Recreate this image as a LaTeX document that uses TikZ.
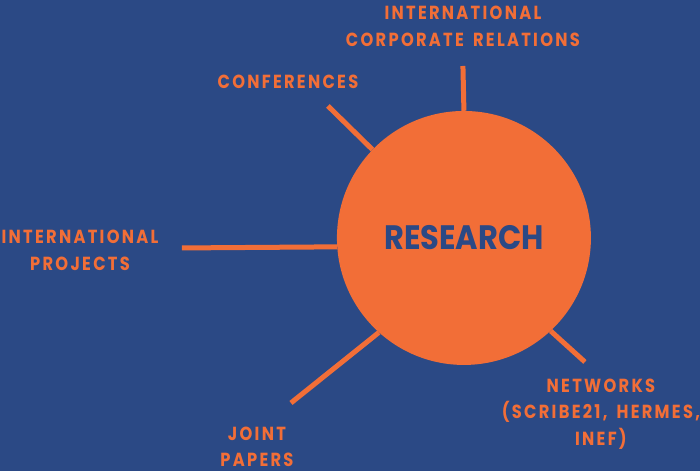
\documentclass[tikz,border=0pt]{standalone}
\usepackage{fontspec}
\setmainfont{Poppins}
\newfontfamily\tagfont{Poppins}[LetterSpace=12,FakeStretch=0.86,WordSpace=1.6]
\newfontfamily\hubfont{Poppins}[FakeStretch=0.9]
\definecolor{navy}{RGB}{43,73,133}
\definecolor{tangerine}{RGB}{242,110,55}
\begin{document}
\begin{tikzpicture}[x=1bp,y=-1bp,
    tag/.style={text=tangerine,align=center,inner sep=0pt,
      font=\tagfont\bfseries\fontsize{19}{26.5}\selectfont},
    spoke/.style={draw=tangerine,line width=5bp}]
  \fill[navy] (0,0) rectangle (700,471);
  \node[circle,fill=tangerine,minimum size=254bp,inner sep=0pt,
    text=navy,font=\hubfont\bfseries\fontsize{34}{34}\selectfont]
    (research) at (464,238) {RESEARCH};
  % labels round the circle
  \node[tag] (corp) at (463,26.5) {INTERNATIONAL\\CORPORATE RELATIONS};
  \node[tag] (conf) at (288,82) {CONFERENCES};
  \node[tag] (proj) at (80,250.5) {INTERNATIONAL\\PROJECTS};
  \node[tag] (joint) at (257,447) {JOINT\\PAPERS};
  \node[tag] (net) at (601,414) {NETWORKS\\(SCRIBE21, HERMES,\\INEF)};
  % free ends of the spokes
  \coordinate (c1) at (463,66);
  \coordinate (c2) at (328,106);
  \coordinate (c3) at (182,248);
  \coordinate (c4) at (291,403);
  \coordinate (c5) at (585,362);
  \draw[spoke] (c1) -- (research.90);
  \draw[spoke] (c2) -- (research.136);
  \draw[spoke] (c3) -- (research.184.5);
  \draw[spoke] (c4) -- (research.228.6);
  \draw[spoke] (c5) -- (research.313.4);
\end{tikzpicture}
\end{document}
